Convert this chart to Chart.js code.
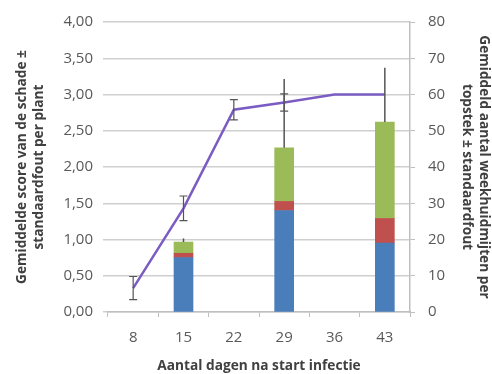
<!DOCTYPE html>
<html>
<head>
<meta charset="utf-8">
<script src="https://cdn.jsdelivr.net/npm/chart.js@4"></script>
<style>
  html, body { margin: 0; padding: 0; background: #fff; }
  #wrap { width: 492px; height: 374px; }
</style>
</head>
<body>
<div id="wrap"><canvas id="chart" width="492" height="374"></canvas></div>
<script>
// dagen na start infectie
const days = ['8', '15', '22', '29', '36', '43'];

// gemiddeld aantal weekhuidmijten per topstek (gestapeld)
const mitesBlue = [null, 15, null, 28, null, 19];
const mitesRed = [null, 1.2, null, 2.5, null, 6.8];
const mitesGreen = [null, 3.1, null, 14.8, null, 26.6];
const mitesErr = [null, 1, null, 19, null, 15];

// gemiddelde score van de schade
const score = [0.33, 1.43, 2.79, 2.89, 3.0, 3.0];
const scoreErr = [0.16, 0.17, 0.14, 0.12, null, null];

const leftTicks = [0, 0.5, 1, 1.5, 2, 2.5, 3, 3.5, 4];
const rightTicks = [0, 10, 20, 30, 40, 50, 60, 70, 80];

const tickFont = { family: 'Open Sans', size: 15 };
const titleFont = { family: 'Open Sans', size: 13.7, weight: 'bold', lineHeight: 1.2 };

// error bars drawn through the chart scales
const errorBars = {
  id: 'errorBars',
  afterDatasetsDraw(chart) {
    const ctx = chart.ctx;
    const x = chart.scales.x, yL = chart.scales.y, yR = chart.scales.y1;
    ctx.save();
    ctx.strokeStyle = '#555';
    // bars: only the plus side, no caps
    ctx.lineWidth = 1.5;
    mitesErr.forEach((e, i) => {
      if (e == null) return;
      const top = mitesBlue[i] + mitesRed[i] + mitesGreen[i];
      const px = x.getPixelForValue(i);
      ctx.beginPath();
      ctx.moveTo(px, yR.getPixelForValue(top));
      ctx.lineTo(px, yR.getPixelForValue(top + e));
      ctx.stroke();
    });
    // line: both sides with caps
    ctx.lineWidth = 1.2;
    score.forEach((v, i) => {
      const e = scoreErr[i];
      if (e == null) return;
      const px = x.getPixelForValue(i);
      const t = yL.getPixelForValue(v + e), b = yL.getPixelForValue(v - e);
      ctx.beginPath();
      ctx.moveTo(px, t); ctx.lineTo(px, b);
      ctx.moveTo(px - 4, t); ctx.lineTo(px + 4, t);
      ctx.moveTo(px - 4, b); ctx.lineTo(px + 4, b);
      ctx.stroke();
    });
    ctx.restore();
  }
};

new Chart(document.getElementById('chart'), {
  type: 'bar',
  data: {
    labels: days,
    datasets: [
      { type: 'line', label: 'Score', data: score, yAxisID: 'y', borderColor: '#7b5cc2',
        borderWidth: 2.5, pointRadius: 0, tension: 0, order: 0 },
      { label: 'Blauw', data: mitesBlue, yAxisID: 'y1', backgroundColor: '#4a7ebb', stack: 'm', barThickness: 19, order: 1 },
      { label: 'Rood', data: mitesRed, yAxisID: 'y1', backgroundColor: '#c0504d', stack: 'm', barThickness: 19, order: 1 },
      { label: 'Groen', data: mitesGreen, yAxisID: 'y1', backgroundColor: '#9bbb59', stack: 'm', barThickness: 19, order: 1 }
    ]
  },
  options: {
    responsive: false,
    animation: false,
    layout: { padding: { left: 14, right: 0, top: 20, bottom: 0 } },
    plugins: { legend: { display: false }, tooltip: { enabled: false } },
    scales: {
      x: {
        stacked: true,
        grid: { display: true, offset: true, drawOnChartArea: false, drawTicks: true, tickLength: 5, color: '#bfbfbf' },
        border: { color: '#bfbfbf', width: 1.5 },
        ticks: { font: tickFont, color: '#595959', padding: 12 },
        title: { display: true, text: 'Aantal dagen na start infectie', font: titleFont, color: '#404040',
          padding: { top: 0, bottom: 0 } },
        afterFit: s => { s.height = 62; }
      },
      y: {
        position: 'left',
        min: 0, max: 4,
        afterBuildTicks: s => { s.ticks = leftTicks.map(v => ({ value: v })); },
        grid: { color: '#cfcfcf', lineWidth: 1.5, tickLength: 5 },
        border: { display: false },
        ticks: { font: tickFont, color: '#595959', padding: 10,
          callback: v => v.toFixed(2).replace('.', ',') },
        title: { display: true, text: ['Gemiddelde score van de schade \u00b1', 'standaardfout per plant'],
          font: titleFont, color: '#404040', padding: 0 },
        afterFit: s => { s.width = 94; }
      },
      y1: {
        position: 'right',
        stacked: true,
        min: 0, max: 80,
        afterBuildTicks: s => { s.ticks = rightTicks.map(v => ({ value: v })); },
        grid: { drawOnChartArea: false, color: '#bfbfbf', tickLength: 5 },
        border: { color: '#bfbfbf', width: 1.5 },
        ticks: { font: tickFont, color: '#595959', padding: 13 },
        title: { display: true, text: ['Gemiddeld aantal weekhuidmijten per', 'topstek \u00b1 standaardfout'],
          font: titleFont, color: '#404040', padding: 0 },
        afterFit: s => { s.width = 82; }
      }
    }
  },
  plugins: [errorBars]
});
</script>
</body>
</html>
